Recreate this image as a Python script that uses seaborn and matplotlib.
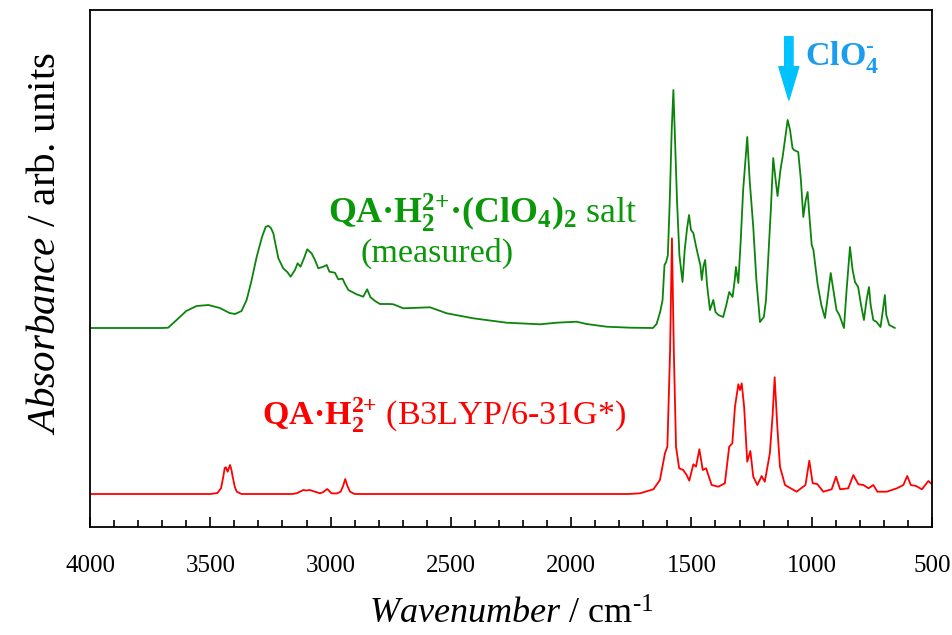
import numpy as np
import pandas as pd
import matplotlib
matplotlib.use("Agg")
import matplotlib.pyplot as plt
from matplotlib.ticker import MultipleLocator
import seaborn as sns

# ---------------- data ----------------
# measured spectrum of the QA·H2(2+)·(ClO4)2 salt (absorbance, arb. units)
salt_wn = [4000, 3800, 3700, 3675, 3640, 3600, 3557, 3508, 3460, 3420, 3397, 3370,
           3349, 3330, 3307, 3285, 3270, 3259, 3248, 3238, 3228, 3217, 3197, 3180,
           3166, 3148, 3137, 3125, 3110, 3097, 3079, 3065, 3051, 3030, 3016, 3005,
           2982, 2968, 2950, 2940, 2926, 2892, 2864, 2848, 2834, 2815, 2795, 2753,
           2739, 2698, 2628, 2587, 2517, 2407, 2268, 2129, 2060, 1977, 1936, 1853,
           1755, 1665, 1660, 1645, 1630, 1620, 1612, 1605, 1598, 1590, 1582, 1575,
           1568, 1560, 1550, 1537, 1528, 1518, 1510, 1502, 1492, 1482, 1471, 1463,
           1457, 1450, 1443, 1435, 1423, 1409, 1400, 1388, 1368, 1355, 1343, 1329,
           1320, 1315, 1305, 1295, 1285, 1268, 1258, 1243, 1230, 1215, 1199, 1190,
           1181, 1170, 1160, 1150, 1142, 1130, 1121, 1110, 1100, 1090, 1080, 1074,
           1056, 1045, 1035, 1025, 1017, 1010, 1000, 993, 975, 960, 945, 935,
           921, 910, 897, 885, 866, 855, 841, 830, 820, 807, 795, 783,
           772, 762, 755, 744, 730, 714, 704, 696, 690, 678, 654]
salt_abs = [0.000, 0.000, 0.000, 0.003, 0.080, 0.170, 0.220, 0.230, 0.200, 0.150, 0.140, 0.170,
            0.280, 0.460, 0.713, 0.910, 1.010, 1.023, 1.000, 0.947, 0.830, 0.697, 0.597, 0.560,
            0.513, 0.580, 0.647, 0.613, 0.700, 0.787, 0.747, 0.680, 0.597, 0.613, 0.630, 0.563,
            0.553, 0.487, 0.493, 0.440, 0.380, 0.337, 0.313, 0.387, 0.307, 0.270, 0.240, 0.240,
            0.237, 0.197, 0.203, 0.207, 0.147, 0.097, 0.053, 0.037, 0.053, 0.063, 0.040, 0.013,
            0.003, 0.000, 0.000, 0.040, 0.160, 0.280, 0.630, 0.660, 0.730, 1.280, 1.980, 2.380,
            1.880, 1.280, 0.730, 0.460, 0.780, 1.000, 1.130, 0.980, 0.950, 0.830, 0.710, 0.630,
            0.480, 0.620, 0.680, 0.430, 0.180, 0.280, 0.160, 0.130, 0.110, 0.230, 0.360, 0.310,
            0.480, 0.610, 0.450, 0.880, 1.380, 1.910, 1.480, 1.010, 0.480, 0.060, 0.110, 0.280,
            0.680, 1.180, 1.700, 1.480, 1.320, 1.580, 1.710, 1.900, 2.080, 1.980, 1.800, 1.780,
            1.760, 1.480, 1.110, 1.280, 1.360, 1.130, 0.830, 0.780, 0.430, 0.230, 0.100, 0.280,
            0.550, 0.380, 0.180, 0.130, 0.000, 0.380, 0.810, 0.580, 0.460, 0.410, 0.230, 0.080,
            0.280, 0.410, 0.230, 0.080, 0.060, 0.010, 0.180, 0.330, 0.130, 0.030, 0.000]

# calculated spectrum of QA·H2(2+) (B3LYP/6-31G*)
calc_wn = [4000, 3500, 3470, 3455, 3446, 3440, 3435, 3428, 3418, 3412, 3407, 3398,
           3390, 3370, 3160, 3141, 3113, 3100, 3086, 3065, 3044, 3030, 3014, 2996,
           2975, 2958, 2948, 2939, 2930, 2919, 2900, 1760, 1714, 1658, 1631, 1610,
           1600, 1589, 1581, 1573, 1564, 1551, 1534, 1520, 1509, 1492, 1481, 1467,
           1453, 1439, 1416, 1388, 1361, 1343, 1330, 1319, 1305, 1298, 1291, 1281,
           1268, 1255, 1243, 1226, 1208, 1195, 1174, 1163, 1154, 1143, 1132, 1111,
           1063, 1026, 1010, 996, 977, 952, 917, 899, 882, 848, 827, 806,
           785, 764, 744, 727, 688, 646, 619, 603, 588, 566, 542, 515, 505, 500]
calc_abs = [0.000, 0.000, 0.010, 0.060, 0.173, 0.260, 0.267, 0.223, 0.290, 0.240, 0.173, 0.070,
            0.023, 0.000, 0.000, 0.007, 0.040, 0.035, 0.040, 0.023, 0.007, 0.020, 0.050, 0.007,
            0.005, 0.023, 0.080, 0.150, 0.080, 0.023, 0.000, 0.000, 0.007, 0.047, 0.140, 0.407,
            0.473, 1.407, 2.557, 1.407, 0.473, 0.257, 0.240, 0.190, 0.133, 0.297, 0.273, 0.447,
            0.240, 0.257, 0.090, 0.073, 0.107, 0.473, 0.507, 0.873, 1.097, 1.040, 1.107, 0.873,
            0.323, 0.430, 0.173, 0.090, 0.180, 0.123, 0.407, 0.773, 1.167, 0.673, 0.273, 0.090,
            0.023, 0.090, 0.333, 0.107, 0.100, 0.023, 0.047, 0.173, 0.047, 0.057, 0.190, 0.097,
            0.090, 0.057, 0.090, 0.023, 0.023, 0.057, 0.090, 0.180, 0.090, 0.080, 0.047, 0.130,
            0.107, 0.100]

salt_offset = 1.66
x_ticks = [4000, 3500, 3000, 2500, 2000, 1500, 1000, 500]

# ---------------- style ----------------
sns.set_theme(style="white")
plt.rcParams["font.family"] = ["Liberation Serif", "DejaVu Serif"]
plt.rcParams["mathtext.fontset"] = "custom"
plt.rcParams["mathtext.rm"] = "Liberation Serif"
plt.rcParams["mathtext.it"] = "Liberation Serif:italic"
plt.rcParams["mathtext.bf"] = "Liberation Serif:bold"

GREEN_LINE = "#0b840b"
GREEN_TEXT = "#0a980a"
RED = "#ff0000"
ARROW = "#00c2ff"
BLUE_TEXT = "#1a9cf0"

fig = plt.figure(figsize=(9.53, 6.35), dpi=100)
ax = fig.add_axes([90 / 953, 1 - 527 / 635, 842 / 953, 517 / 635])

salt_df = pd.DataFrame({"wn": salt_wn, "A": np.array(salt_abs) + salt_offset})
calc_df = pd.DataFrame({"wn": calc_wn, "A": calc_abs})

sns.lineplot(data=salt_df, x="wn", y="A", ax=ax, color=GREEN_LINE, linewidth=1.3,
             estimator=None, sort=False)
sns.lineplot(data=calc_df, x="wn", y="A", ax=ax, color=RED, linewidth=1.3,
             estimator=None, sort=False)

ax.set_xlim(4000, 500)
ax.set_ylim(-0.33, 4.84)
ax.set_xticks(x_ticks)
ax.xaxis.set_minor_locator(MultipleLocator(100))
ax.set_yticks([])
ax.tick_params(axis="x", which="major", direction="in", length=7, width=1.2,
               color="black", labelcolor="black", labelsize=18, pad=20,
               top=False, bottom=True)
ax.tick_params(axis="x", which="minor", direction="in", length=5, width=1.2,
               color="black", top=False, bottom=True)
for s in ax.spines.values():
    s.set_color("black")
    s.set_linewidth(1.3)

ax.set_xlabel(r"$\mathit{Wavenumber}$ / cm$^{\text{-1}}$", fontsize=26, labelpad=16, color="black")
ax.set_ylabel(r"$\mathit{Absorbance}$ / arb. units", fontsize=29.5, color="black")
ax.yaxis.set_label_coords(-0.031, 0.549)

# annotations
ax.text(3011, 2.707, r"$\mathbf{QA·H_2^{2{+}}·(ClO_4)_2}$ salt", color=GREEN_TEXT,
        fontsize=25.8, ha="left", va="baseline")
ax.text(2558, 2.32, "(measured)", color=GREEN_TEXT, fontsize=24.5, ha="center", va="baseline")
ax.text(3285, 0.69, r"$\mathbf{QA·H_2^{2{+}}}$ (B3LYP/6-31G*)", color=RED,
        fontsize=24.5, ha="left", va="baseline")
ax.text(1028, 4.29, r"$\mathbf{ClO_4^{\text{-}}}$", color=BLUE_TEXT, fontsize=24.5,
        ha="left", va="baseline")
ax.annotate("", xy=(1095, 3.94), xytext=(1095, 4.573),
            arrowprops=dict(arrowstyle="simple,head_length=1.2,head_width=0.72,tail_width=0.3",
                            color=ARROW, shrinkA=0, shrinkB=0, mutation_scale=20))

fig.savefig("out.png", dpi=100)
